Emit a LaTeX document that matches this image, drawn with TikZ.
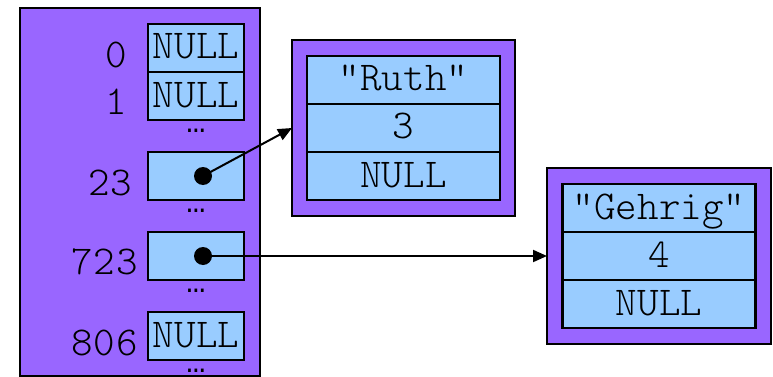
\documentclass[tikz,border=0pt]{standalone}
\usepackage{fontspec}
\newfontfamily\codefont{Latin Modern Mono Light}
\newfontfamily\idxfont[LetterSpace=3]{Latin Modern Mono Light}
\newfontfamily\dotfont{Liberation Mono}
\usetikzlibrary{positioning,arrows.meta}
\definecolor{hashpurple}{HTML}{9966FF}
\definecolor{cellblue}{HTML}{99CCFF}
\tikzset{
  frame/.style={draw, line width=2.5pt, fill=hashpurple, outer sep=0pt, inner sep=0pt},
  field/.style={draw, line width=2.5pt, fill=cellblue, outer sep=0pt, inner sep=0pt,
    minimum height=48pt, font=\codefont\fontsize{41}{41}\selectfont,
    text height=22pt, text depth=0pt},
  slot/.style={field, minimum width=96pt},
  entry/.style={field, minimum width=193pt},
  idx/.style={font=\idxfont\fontsize{41}{41}\selectfont, inner sep=0pt, anchor=base west},
  gap/.style={font=\dotfont\fontsize{32}{32}\selectfont, inner sep=0pt,
    text height=4pt, text depth=0pt},
  ptr/.style={circle, fill, inner sep=0pt, minimum size=18pt},
  link/.style={line width=2pt, -{Triangle[length=14pt,width=12pt]}},
}
\begin{document}
\begin{tikzpicture}[x=1pt,y=-1pt]
\useasboundingbox (0,0) rectangle (773,377);
% hash table with its buckets
\node[frame, minimum width=240pt, minimum height=368pt] (hash) at (140,192) {};
\node[slot] (s0) at (196,48) {NULL};
\node[slot] (s1) at (196,96) {NULL};
\node[slot] (s23) at (196,176) {};
\node[slot] (s723) at (196,256) {};
\node[slot] (s806) at (196,336) {NULL};
\node[gap, below=8pt of s1] (g1) {…};
\node[gap, below=8pt of s23] (g23) {…};
\node[gap, below=8pt of s723] (g723) {…};
\node[gap, below=8pt of s806] (g806) {…};
\node[idx] (i0) at (105,68) {0};
\node[idx] (i1) at (105,115) {1};
\node[idx] (i23) at (88,195) {23};
\node[idx] (i723) at (71,274) {723};
\node[idx] (i806) at (71,355) {806};
\node[ptr] (p23) at (203,176) {};
\node[ptr] (p723) at (203,256) {};
% the two entries
\node[frame, minimum width=223pt, minimum height=176pt] (ruth) at (403.5,128) {};
\node[entry, below=16pt of ruth.north] (ruth-key) {"Ruth"};
\node[entry, below=0pt of ruth-key] (ruth-val) {3};
\node[entry, below=0pt of ruth-val] (ruth-next) {NULL};
\node[frame, minimum width=224pt, minimum height=176pt] (gehrig) at (659,256) {};
\node[entry, below=16pt of gehrig.north] (gehrig-key) {"Gehrig"};
\node[entry, below=0pt of gehrig-key] (gehrig-val) {4};
\node[entry, below=0pt of gehrig-val] (gehrig-next) {NULL};
\draw[link] (p23.center) -- (ruth.west);
\draw[link] (p723.center) -- (gehrig.west);
\end{tikzpicture}
\end{document}
